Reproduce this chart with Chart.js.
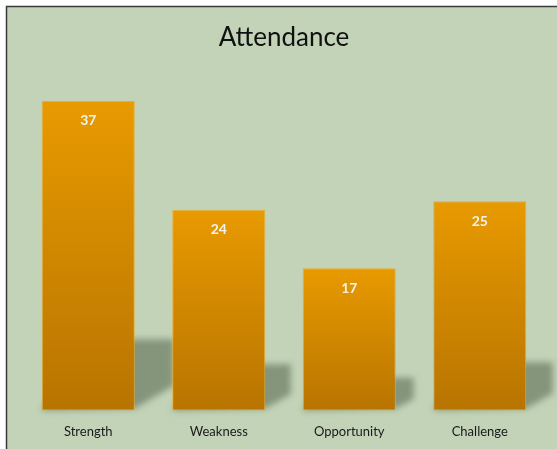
<!DOCTYPE html>
<html>
<head>
<meta charset="utf-8">
<script src="https://cdn.jsdelivr.net/npm/chart.js@4"></script>
<style>
    html, body { margin: 0; padding: 0; background: #fff; overflow: hidden; }
    canvas { display: block; }
</style>
</head>
<body>
<canvas id="myChart" width="557" height="449"></canvas>
<script>
const categories = ["Strength", "Weakness", "Opportunity", "Challenge"];
const attendance = [37, 24, 17, 25];
const chartTitle = "Attendance";

// frame + green background behind everything
const framePlugin = {
    id: 'frame',
    beforeDraw(chart) {
        const c = chart.ctx;
        c.save();
        c.fillStyle = '#ffffff';
        c.fillRect(0, 0, chart.width, chart.height);
        c.fillStyle = '#c2d3b7';
        c.fillRect(6, 6, chart.width, chart.height);
        c.strokeStyle = '#3a3a3a';
        c.lineWidth = 1.5;
        c.beginPath();
        c.moveTo(6.5, chart.height);
        c.lineTo(6.5, 6.5);
        c.lineTo(chart.width, 6.5);
        c.stroke();
        c.restore();
    }
};

// skewed floor shadows, drawn before the bars
const shadowPlugin = {
    id: 'barShadow',
    beforeDatasetsDraw(chart) {
        const c = chart.ctx;
        const meta = chart.getDatasetMeta(0);
        c.save();
        c.filter = 'blur(3px)';
        c.fillStyle = 'rgba(112,128,104,0.75)';
        meta.data.forEach(bar => {
            const half = bar.width / 2;
            const L = bar.x - half, R = bar.x + half;
            const base = bar.base;
            const h = (base - bar.y) * 0.23;
            const dx = h * 0.55;
            c.beginPath();
            c.moveTo(L, base);
            c.lineTo(L + dx, base - h);
            c.lineTo(R + dx, base - h);
            c.lineTo(R + dx, base - h * 0.35);
            c.lineTo(R, base - 2);
            c.closePath();
            c.fill();
        });
        c.restore();
    }
};

// value labels inside the top of each bar
const valueLabels = {
    id: 'valueLabels',
    afterDatasetsDraw(chart) {
        const c = chart.ctx;
        const meta = chart.getDatasetMeta(0);
        c.save();
        c.font = 'bold 14px Lato, "Open Sans", sans-serif';
        c.fillStyle = '#f2f2ee';
        c.textAlign = 'center';
        c.textBaseline = 'middle';
        meta.data.forEach((bar, i) => {
            c.fillText(attendance[i], bar.x, bar.y + 20);
        });
        c.restore();
    }
};

const ctx = document.getElementById('myChart').getContext('2d');
const myChart = new Chart(ctx, {
    type: 'bar',
    data: {
        labels: categories,
        datasets: [{
            label: chartTitle,
            data: attendance,
            backgroundColor: function (context) {
                const chart = context.chart;
                if (!chart.chartArea) return '#e09200';
                const y = chart.scales.y;
                const top = y.getPixelForValue(context.raw);
                const bottom = y.getPixelForValue(0);
                const g = chart.ctx.createLinearGradient(0, top, 0, bottom);
                g.addColorStop(0, '#e89a00');
                g.addColorStop(1, '#b87400');
                return g;
            },
            borderColor: 'rgba(236,170,40,0.9)',
            borderWidth: 1,
            borderSkipped: false,
            barPercentage: 0.713,
            categoryPercentage: 1
        }]
    },
    options: {
        responsive: false,
        animation: false,
        layout: {
            padding: { left: 23, right: 12, top: 0, bottom: -5 }
        },
        plugins: {
            legend: { display: false },
            tooltip: { enabled: false },
            title: {
                display: true,
                text: chartTitle,
                color: '#111',
                font: { family: 'Lato, "Open Sans", sans-serif', size: 26, weight: 'normal' },
                padding: { top: 22, bottom: 22.6 }
            }
        },
        scales: {
            x: {
                grid: { display: false, drawTicks: false },
                border: { display: false },
                ticks: {
                    color: '#1a1a1a',
                    padding: 14,
                    font: { family: 'Lato, "Open Sans", sans-serif', size: 13 }
                }
            },
            y: {
                display: false,
                min: 0,
                max: 40
            }
        }
    },
    plugins: [framePlugin, shadowPlugin, valueLabels]
});
</script>
</body>
</html>
